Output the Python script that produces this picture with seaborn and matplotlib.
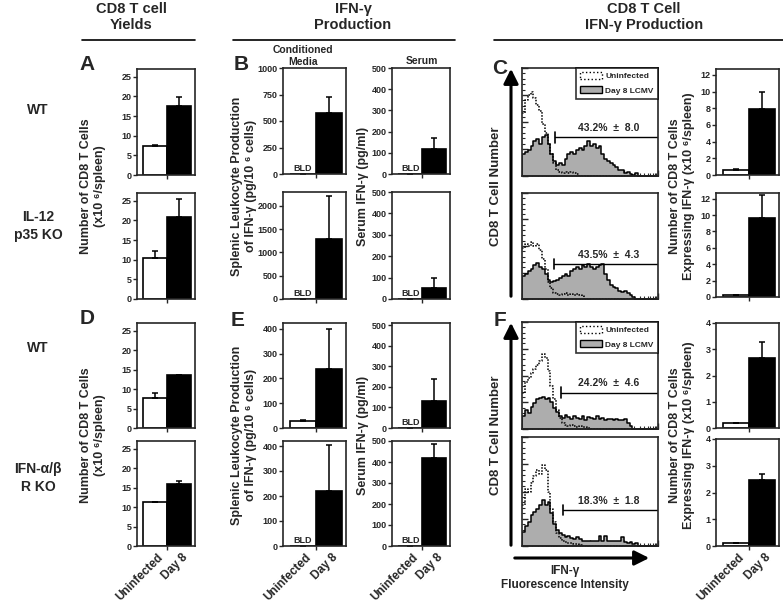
import numpy as np
import pandas as pd
import matplotlib
matplotlib.use('Agg')
import matplotlib.pyplot as plt
import seaborn as sns
from matplotlib.patches import Patch, FancyArrowPatch
from matplotlib.lines import Line2D

sns.set_theme(style='ticks')
plt.rcParams['font.family'] = ['Liberation Sans', 'DejaVu Sans']
plt.rcParams['font.weight'] = 'bold'

groups = ['Uninfected', 'Day 8']

# CD8 T cell yields (x10^6/spleen): mean, upper error
yield_wt_a = [7.3, 17.6]
yield_wt_a_err = [0.4, 2.2]
yield_il12 = [10.5, 21.0]
yield_il12_err = [1.6, 4.5]
yield_wt_d = [7.7, 13.6]
yield_wt_d_err = [1.2, 0.0]
yield_ifnr = [11.3, 15.9]
yield_ifnr_err = [0.0, 0.8]

# IFN-g in conditioned media (pg/10^6 cells), BLD = 0
cm_wt_b = [0, 575]
cm_wt_b_err = [0, 155]
cm_il12 = [0, 1290]
cm_il12_err = [0, 930]
cm_wt_e = [28, 240]
cm_wt_e_err = [5, 160]
cm_ifnr = [0, 222]
cm_ifnr_err = [0, 183]

# serum IFN-g (pg/ml)
serum_wt_b = [0, 120]
serum_wt_b_err = [0, 50]
serum_il12 = [0, 50]
serum_il12_err = [0, 50]
serum_wt_e = [0, 130]
serum_wt_e_err = [0, 110]
serum_ifnr = [0, 418]
serum_ifnr_err = [0, 68]

# IFN-g expressing CD8 T cells (x10^6/spleen)
ifn_wt_c = [0.6, 7.9]
ifn_wt_c_err = [0.1, 2.1]
ifn_il12 = [0.3, 9.7]
ifn_il12_err = [0.0, 2.7]
ifn_wt_f = [0.18, 2.65]
ifn_wt_f_err = [0.0, 0.63]
ifn_ifnr = [0.12, 2.45]
ifn_ifnr_err = [0.0, 0.25]

# flow histograms, 48 bins over 4 log decades (% of max)
hist_c_wt_day8 = [20, 22, 24, 28, 32, 34, 30, 36, 38, 30, 20, 14, 10, 12, 10, 16, 20, 22, 20, 24,
                  26, 24, 28, 32, 28, 30, 26, 28, 20, 16, 14, 12, 10, 8, 6, 6, 3, 4, 2, 1,
                  3, 0, 0, 0, 0, 0, 0, 0]
hist_c_wt_uninf = [58, 70, 75, 78, 72, 66, 60, 48, 40, 30, 20, 12, 6, 4, 3, 4, 3, 4, 3, 2,
                   0, 0, 0, 0, 0, 0, 0, 0, 0, 0, 0, 0, 0, 0, 0, 0, 0, 0, 0, 0,
                   0, 0, 0, 0, 0, 0, 0, 0]
hist_c_il12_day8 = [22, 24, 26, 28, 32, 34, 30, 28, 24, 18, 16, 17, 18, 20, 22, 24, 22, 26, 28, 30,
                    28, 32, 30, 33, 30, 28, 30, 32, 33, 24, 18, 13, 11, 10, 8, 7, 8, 6, 4, 2,
                    0, 0, 0, 0, 0, 0, 0, 0]
hist_c_il12_uninf = [48, 52, 50, 54, 50, 52, 46, 38, 28, 16, 10, 6, 5, 4, 5, 6, 4, 5, 4, 5,
                     4, 3, 0, 0, 0, 0, 0, 0, 0, 0, 0, 0, 0, 0, 0, 0, 0, 0, 0, 0,
                     0, 0, 0, 0, 0, 0, 0, 0]
hist_f_wt_day8 = [12, 18, 15, 21, 24, 28, 29, 30, 28, 29, 25, 20, 16, 12, 10, 13, 11, 9, 12, 10,
                  9, 12, 8, 11, 10, 9, 12, 9, 10, 8, 9, 9, 8, 9, 8, 8, 9, 6, 3, 0,
                  0, 0, 0, 0, 0, 0, 0, 0]
hist_f_wt_uninf = [34, 44, 48, 52, 56, 60, 64, 70, 66, 54, 40, 28, 18, 10, 6, 4, 3, 4, 3, 2,
                   3, 2, 2, 1, 0, 0, 0, 0, 0, 0, 0, 0, 0, 0, 0, 0, 0, 0, 0, 0,
                   0, 0, 0, 0, 0, 0, 0, 0]
hist_f_ifnr_day8 = [13, 18, 22, 28, 31, 34, 38, 42, 38, 40, 30, 20, 15, 12, 10, 8, 9, 7, 6, 8,
                    6, 5, 5, 5, 5, 5, 5, 9, 5, 9, 5, 5, 5, 5, 5, 8, 4, 3, 4, 2,
                    3, 0, 0, 0, 0, 0, 0, 0]
hist_f_ifnr_uninf = [38, 52, 50, 58, 64, 70, 66, 74, 70, 50, 34, 22, 12, 7, 5, 4, 3, 3, 2, 2,
                     1, 0, 0, 0, 0, 0, 0, 0, 0, 0, 0, 0, 0, 0, 0, 0, 0, 0, 0, 0,
                     0, 0, 0, 0, 0, 0, 0, 0]

gate_labels = ['43.2%  \u00b1  8.0', '43.5%  \u00b1  4.3', '24.2%  \u00b1  4.6', '18.3%  \u00b1  1.8']
gate_starts = [0.98, 0.95, 1.15, 1.2]
gate_levels = [36, 33, 34, 33]

W, H = 783, 602
fig = plt.figure(figsize=(W / 100, H / 100), dpi=100)


def box(l, t, r, b):
    return [l / W, 1 - b / H, (r - l) / W, (b - t) / H]


def fx(x):
    return x / W


def fy(y):
    return 1 - y / H


def bar_panel(rect, vals, errs, ylim, ticks, bld=False, labels=False, fmt='{:d}'):
    ax = fig.add_axes(box(*rect))
    sns.barplot(x=groups, y=vals, hue=groups, palette=['white', 'black'], edgecolor='black',
                linewidth=1.2, width=1.0, legend=False, ax=ax)
    ax.errorbar([0, 1], vals, yerr=[[0, 0], errs], fmt='none', ecolor='black',
                elinewidth=1.1, capsize=2.2, capthick=1.1)
    ax.set_xlim(-0.75, 1.65)
    ax.set_ylim(*ylim)
    ax.set_yticks(ticks)
    ax.set_yticklabels([fmt.format(t) for t in ticks], fontsize=6.5, fontweight='bold')
    ax.set_xticks([0.5])
    ax.set_xticklabels([''])
    if labels:
        ax.set_xticks([0.1, 1.1], minor=True)
        ax.set_xticklabels(groups, minor=True, rotation=45, ha='right', rotation_mode='anchor',
                           fontsize=8.5, fontweight='bold')
        ax.tick_params(axis='x', which='minor', length=0, pad=4)
    ax.tick_params(axis='both', which='major', direction='out', length=3, width=1, pad=1)
    ax.set_xlabel('')
    ax.set_ylabel('')
    for s in ax.spines.values():
        s.set_linewidth(1.2)
    if bld:
        ax.text(0, ylim[1] * 0.012, 'BLD', ha='center', va='bottom', fontsize=6.5, fontweight='bold')
    return ax


edges = [i / 12 for i in range(49)]
centers = [(i + 0.5) / 12 for i in range(48)]
minor_x = [d + np.log10(k) for d in range(4) for k in range(2, 10)]


def hist_panel(rect, day8, uninf, i, legend=False):
    ax = fig.add_axes(box(*rect))
    df = pd.DataFrame({'intensity': centers, 'day8': day8, 'uninf': uninf})
    sns.histplot(data=df, x='intensity', weights='day8', bins=edges, element='step', fill=True,
                 color='#adadad', alpha=1, edgecolor='black', linewidth=1.1, ax=ax)
    sns.histplot(data=df, x='intensity', weights='uninf', bins=edges, element='step', fill=False,
                 color='black', linestyle=(0, (1, 1)), linewidth=1.1, ax=ax)
    ax.set_xlim(0, 4)
    ax.set_ylim(0, 100)
    ax.set_xticks(range(5))
    ax.set_xticks(minor_x, minor=True)
    ax.set_yticks([0, 25, 50, 75, 100])
    ax.set_yticks(range(0, 101, 5), minor=True)
    ax.set_xticklabels([])
    ax.set_yticklabels([])
    ax.tick_params(which='major', direction='in', length=4, width=1)
    ax.tick_params(which='minor', direction='in', length=2, width=0.8)
    ax.set_xlabel('')
    ax.set_ylabel('')
    for s in ax.spines.values():
        s.set_linewidth(1.2)
    g, lvl = gate_starts[i], gate_levels[i]
    ax.plot([g, 4], [lvl, lvl], color='black', lw=1)
    ax.plot([g, g], [lvl - 5, lvl + 5], color='black', lw=1.2)
    ax.text(2.55, lvl + 4, gate_labels[i], ha='center', va='bottom', fontsize=7.5, fontweight='bold')
    if legend:
        handles = [Patch(facecolor='white', edgecolor='black', linestyle=':', label='Uninfected'),
                   Patch(facecolor='#adadad', edgecolor='black', label='Day 8 LCMV')]
        leg = ax.legend(handles=handles, loc='upper right', fontsize=6, frameon=True,
                        fancybox=False, borderaxespad=0, handlelength=2.6, handleheight=0.9,
                        borderpad=0.5, labelspacing=0.7, handletextpad=0.4)
        leg.get_frame().set_edgecolor('black')
        leg.get_frame().set_linewidth(1.2)
        for t in leg.get_texts():
            t.set_fontweight('bold')
    return ax


# column A / D
bar_panel((137, 69, 195, 175), yield_wt_a, yield_wt_a_err, (0, 27), range(0, 26, 5))
bar_panel((137, 193, 195, 299), yield_il12, yield_il12_err, (0, 27), range(0, 26, 5))
bar_panel((137, 323, 195, 428), yield_wt_d, yield_wt_d_err, (0, 27), range(0, 26, 5))
bar_panel((137, 441, 195, 546), yield_ifnr, yield_ifnr_err, (0, 27), range(0, 26, 5), labels=True)

# column B / E conditioned media
bar_panel((283, 68, 346, 174), cm_wt_b, cm_wt_b_err, (0, 1000), range(0, 1001, 250), bld=True)
bar_panel((283, 192, 346, 299), cm_il12, cm_il12_err, (0, 2300), range(0, 2001, 500), bld=True)
bar_panel((283, 323, 346, 428), cm_wt_e, cm_wt_e_err, (0, 424), range(0, 401, 100))
bar_panel((283, 441, 346, 546), cm_ifnr, cm_ifnr_err, (0, 420), range(0, 401, 100), bld=True, labels=True)

# column B / E serum
bar_panel((392, 68, 450, 174), serum_wt_b, serum_wt_b_err, (0, 500), range(0, 501, 100), bld=True)
bar_panel((392, 192, 450, 299), serum_il12, serum_il12_err, (0, 500), range(0, 501, 100), bld=True)
bar_panel((392, 323, 450, 428), serum_wt_e, serum_wt_e_err, (0, 510), range(0, 501, 100), bld=True)
bar_panel((392, 441, 450, 546), serum_ifnr, serum_ifnr_err, (0, 500), range(0, 501, 100), bld=True, labels=True)

# histograms C / F
hist_panel((522, 68, 658, 176), hist_c_wt_day8, hist_c_wt_uninf, 0, legend=True)
hist_panel((522, 193, 658, 299), hist_c_il12_day8, hist_c_il12_uninf, 1)
hist_panel((522, 322, 658, 429), hist_f_wt_day8, hist_f_wt_uninf, 2, legend=True)
hist_panel((522, 437, 658, 546), hist_f_ifnr_day8, hist_f_ifnr_uninf, 3)

# IFN-g+ CD8 counts
bar_panel((716, 69, 779, 175), ifn_wt_c, ifn_wt_c_err, (0, 12.7), range(0, 13, 2))
bar_panel((716, 193, 779, 297), ifn_il12, ifn_il12_err, (0, 12.7), range(0, 13, 2))
bar_panel((716, 323, 779, 428), ifn_wt_f, ifn_wt_f_err, (0, 4), range(0, 5))
bar_panel((716, 439, 779, 546), ifn_ifnr, ifn_ifnr_err, (0, 4), range(0, 5), labels=True)

# headers
for x, txt in [(131, 'CD8 T cell\nYields'), (353, 'IFN-\u03b3\nProduction'),
               (644, 'CD8 T Cell\nIFN-\u03b3 Production')]:
    fig.text(fx(x), fy(17), txt, ha='center', va='center', fontsize=10.5, fontweight='bold',
             linespacing=1.2)
for x0, x1 in [(82, 195), (233, 455), (494, 783)]:
    fig.add_artist(Line2D([fx(x0), fx(x1)], [fy(40), fy(40)], transform=fig.transFigure,
                          color='black', lw=1.2))

# panel letters
for x, y, l in [(87, 64, 'A'), (241, 64, 'B'), (500, 68, 'C'),
                (87, 319, 'D'), (238, 320, 'E'), (500, 320, 'F')]:
    fig.text(fx(x), fy(y), l, ha='center', va='center', fontsize=15, fontweight='bold')

# row genotype labels
for y, txt in [(110, 'WT'), (226, 'IL-12\np35 KO'), (348, 'WT'), (478, 'IFN-\u03b1/\u03b2\nR KO')]:
    fig.text(fx(38), fy(y), txt, ha='center', va='center', fontsize=10, fontweight='bold',
             linespacing=1.3)

fig.text(fx(303), fy(56), 'Conditioned\nMedia', ha='center', va='center', fontsize=7.5,
         fontweight='bold', linespacing=1.2)
fig.text(fx(422), fy(61), 'Serum', ha='center', va='center', fontsize=7.5, fontweight='bold')

# y labels
ylab_cells = 'Number of CD8 T Cells\n(x10 \u2076/spleen)'
ylab_cm = 'Splenic Leukocyte Production\nof IFN-\u03b3 (pg/10 \u2076 cells)'
ylab_serum = 'Serum IFN-\u03b3 (pg/ml)'
ylab_ifn = 'Number of CD8 T Cells\nExpressing IFN-\u03b3 (x10 \u2076/spleen)'
for y in [186, 435]:
    fig.text(fx(93), fy(y), ylab_cells, rotation=90, ha='center', va='center', fontsize=9,
             fontweight='bold', linespacing=1.2)
    fig.text(fx(244), fy(y), ylab_cm, rotation=90, ha='center', va='center', fontsize=9,
             fontweight='bold', linespacing=1.2)
    fig.text(fx(363), fy(y), ylab_serum, rotation=90, ha='center', va='center', fontsize=9,
             fontweight='bold')
    fig.text(fx(682), fy(y), ylab_ifn, rotation=90, ha='center', va='center', fontsize=9,
             fontweight='bold', linespacing=1.2)
    fig.text(fx(496), fy(y), 'CD8 T Cell Number', rotation=90, ha='center', va='center',
             fontsize=9.5, fontweight='bold')

# flow axis arrows
for y0, y1 in [(299, 66), (548, 320)]:
    fig.add_artist(FancyArrowPatch((fx(511), fy(y0)), (fx(511), fy(y1)), transform=fig.transFigure,
                                   arrowstyle='-|>', mutation_scale=22, lw=2.2, color='black'))
fig.add_artist(FancyArrowPatch((fx(512), fy(558)), (fx(652), fy(558)), transform=fig.transFigure,
                               arrowstyle='-|>', mutation_scale=22, lw=2.2, color='black'))
fig.text(fx(565), fy(578), 'IFN-\u03b3\nFluorescence Intensity', ha='center', va='center',
         fontsize=8.5, fontweight='bold', linespacing=1.3)

fig.savefig('out.png', dpi=100)
